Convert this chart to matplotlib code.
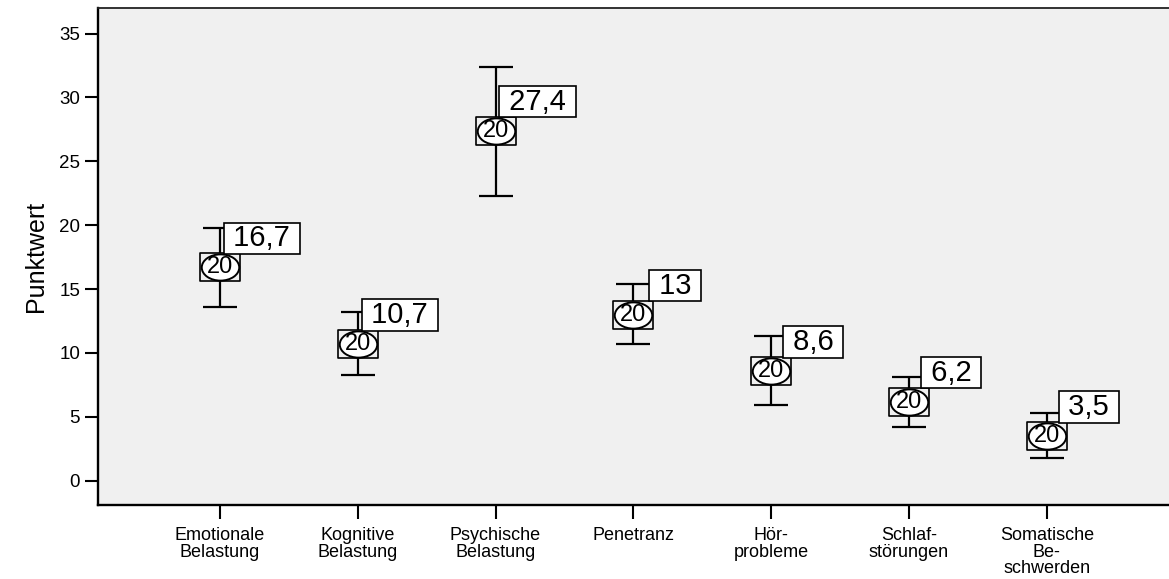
import numpy as np
import matplotlib
matplotlib.use("Agg")
import matplotlib.pyplot as plt
from matplotlib.path import Path
from matplotlib.markers import MarkerStyle
from matplotlib.transforms import Affine2D

plt.rcParams['font.family'] = ['Liberation Sans', 'DejaVu Sans']

# Mittelwerte und 95%-Konfidenzintervalle je Skala (n = 20)
categories = ["Emotionale\nBelastung", "Kognitive\nBelastung", "Psychische\nBelastung",
              "Penetranz", "Hör-\nprobleme", "Schlaf-\nstörungen", "Somatische\nBe-\nschwerden"]
means = [16.7, 10.7, 27.4, 13.0, 8.6, 6.2, 3.5]
ci_low = [13.6, 8.3, 22.3, 10.7, 5.9, 4.2, 1.8]
ci_high = [19.8, 13.2, 32.4, 15.4, 11.3, 8.1, 5.3]
n_cases = [20, 20, 20, 20, 20, 20, 20]
yticks = [0, 5, 10, 15, 20, 25, 30, 35]

def fmt_de(v):
    s = f"{v:.1f}".replace(".", ",")
    return s[:-2] if s.endswith(",0") else s

x = np.arange(len(categories))
means = np.array(means)
err = [means - np.array(ci_low), np.array(ci_high) - means]

fig = plt.figure(figsize=(11.69, 5.79), dpi=100)
ax = fig.add_axes([98 / 1169, 74 / 579, 1 - 98 / 1169, 497 / 579])
ax.set_facecolor('#f0f0f0')

# Fehlerbalken
ax.errorbar(x, means, yerr=err, fmt='none', ecolor='black', elinewidth=1.6,
            capsize=12, capthick=1.6, zorder=2)

# Kastenmarker mit Ellipse und Fallzahl
rect = Path([(-1, -0.72), (1, -0.72), (1, 0.72), (-1, 0.72), (-1, -0.72)],
            [Path.MOVETO, Path.LINETO, Path.LINETO, Path.LINETO, Path.CLOSEPOLY])
ell = Path.unit_circle().transformed(Affine2D().scale(1, 0.7))
ax.plot(x, means, linestyle='none', marker=MarkerStyle(rect), markersize=28.5,
        markerfacecolor='#f0f0f0', markeredgecolor='black', markeredgewidth=1.2, zorder=3)
ax.plot(x, means, linestyle='none', marker=MarkerStyle(ell), markersize=27,
        markerfacecolor='white', markeredgecolor='black', markeredgewidth=1.4, zorder=4)
for xi, m, n in zip(x, means, n_cases):
    ax.text(xi, m, str(n), ha='center', va='center', fontsize=17, zorder=5)

# Wertebeschriftung
for xi, m in zip(x, means):
    ax.annotate(f" {fmt_de(m)} ", xy=(xi, m), xytext=(42, 29), textcoords='offset pixels',
                ha='center', va='center', fontsize=21, zorder=6,
                bbox=dict(boxstyle='square,pad=0.06', fc='white', ec='black', lw=1.2))

ax.set_xlim(-0.885, 6.887)
ax.set_ylim(-1.9, 37.0)
ax.set_yticks(yticks)
ax.set_xticks(x)
ax.set_xticklabels(categories, fontsize=13, linespacing=0.95)
ax.tick_params(axis='y', labelsize=13.5, length=9.4, width=1.5, pad=3.5)
ax.tick_params(axis='x', length=10, width=1.5, pad=6)
ax.set_ylabel('Punktwert', fontsize=18, labelpad=8)

ax.spines['right'].set_visible(False)
for side in ('left', 'bottom'):
    ax.spines[side].set_linewidth(1.7)
ax.spines['top'].set_linewidth(1.3)
ax.spines['top'].set_color('#222222')

fig.savefig('out.png', dpi=100)
